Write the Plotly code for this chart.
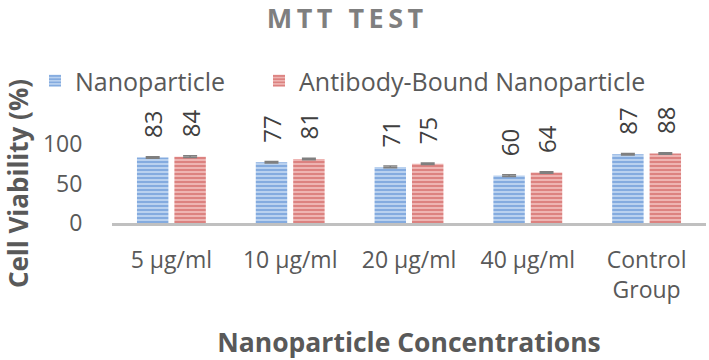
import plotly.graph_objects as go

categories = ["5 µg/ml", "10 µg/ml", "20 µg/ml", "40 µg/ml", "Control<br>Group"]
nano = [83, 77, 71, 60, 87]
antibody = [84, 81, 75, 64, 88]
nano_err = [1, 1, 1, 1, 1]
antibody_err = [1, 1, 1, 1, 1]
y_ticks = [0, 50, 100]

FONT = "Open Sans"
TXT = "#595959"
LABEL_TPL = "\u00a0\u00a0\u2009%{y}"

fig = go.Figure()
fig.add_trace(go.Bar(
    name="Nanoparticle", x=categories, y=nano, legend="legend",
    marker=dict(color="#b4cdec", line=dict(width=0),
                pattern=dict(shape="-", fgcolor="#4f86cf", bgcolor="#b9d1ef", size=4, solidity=0.5)),
    error_y=dict(type="data", array=nano_err, color="#7f7f7f", thickness=1.5, width=7),
    texttemplate=LABEL_TPL, textposition="outside", textangle=-90,
    textfont=dict(family=FONT, size=24, color="#404040"),
    cliponaxis=False, constraintext="none",
))
fig.add_trace(go.Bar(
    name="Antibody-Bound Nanoparticle", x=categories, y=antibody, legend="legend2",
    marker=dict(color="#e8aaa8", line=dict(width=0),
                pattern=dict(shape="-", fgcolor="#c9504d", bgcolor="#eeb4b2", size=4, solidity=0.5)),
    error_y=dict(type="data", array=antibody_err, color="#7f7f7f", thickness=1.5, width=7),
    texttemplate=LABEL_TPL, textposition="outside", textangle=-90,
    textfont=dict(family=FONT, size=24, color="#404040"),
    cliponaxis=False, constraintext="none",
))

W, H = 709, 360
leg_common = dict(orientation="h", xanchor="left", yanchor="middle",
                  xref="container", yref="container", y=1 - 81 / H,
                  font=dict(family=FONT, size=25, color=TXT), bgcolor="rgba(0,0,0,0)")

fig.update_layout(
    width=W, height=H,
    margin=dict(l=112, r=3, t=144, b=137, autoexpand=False),
    paper_bgcolor="white", plot_bgcolor="white",
    font=dict(family=FONT, color=TXT),
    barmode="group", bargap=0.37, bargroupgap=0.16,
    title=dict(text="<b>M\u2009T\u2009T\u2009 \u2009T\u2009E\u2009S\u2009T</b>", x=345 / W, xanchor="center",
               xref="container", yref="container",
               y=1 - 19 / H, yanchor="middle", font=dict(family=FONT, size=27, color="#7f7f7f")),
    legend=dict(x=35 / W, **leg_common),
    legend2=dict(x=259 / W, **leg_common),
    showlegend=True,
)
fig.update_xaxes(
    showline=True, linecolor="#c0c0c0", linewidth=3, showgrid=False, zeroline=False,
    tickfont=dict(family=FONT, size=23, color=TXT), ticks="", ticklabelstandoff=14,
    title=dict(text="<b>Nanoparticle Concentrations</b>", font=dict(family=FONT, size=26.5, color=TXT), standoff=30),
    automargin=False,
)
fig.update_yaxes(
    range=[0, 100], tickvals=y_ticks, showline=False, showgrid=False, zeroline=False,
    tickfont=dict(family=FONT, size=23, color=TXT),
    ticks="outside", ticklen=24, tickcolor="rgba(0,0,0,0)",
    title=dict(text="<b>Cell Viability (%)</b>", font=dict(family=FONT, size=26, color=TXT), standoff=12),
    automargin=False,
)

fig.write_html("out.html", post_script="document.body.style.margin='0';",
               config={"displayModeBar": False})
